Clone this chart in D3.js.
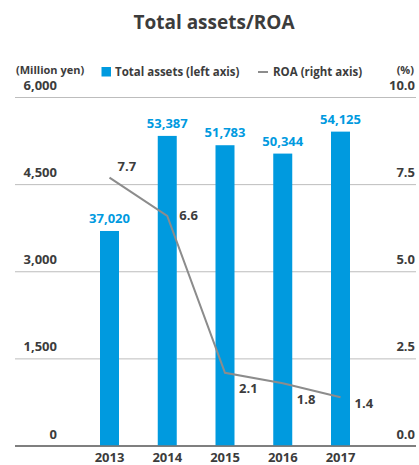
<!DOCTYPE html>
<html>
<head>
<meta charset="utf-8">
<script src="https://cdn.jsdelivr.net/npm/d3@7"></script>
<style>
  html, body { margin: 0; padding: 0; background: #fff; }
  svg { display: block; font-family: "Open Sans", "Noto Sans", sans-serif; }
</style>
</head>
<body>
<svg id="chart" width="419" height="465"></svg>
<script>
// Fiscal years
const years = ["2013", "2014", "2015", "2016", "2017"];
// Total assets (million yen)
const totalAssets = [37020, 53387, 51783, 50344, 54125];
// Return on assets (%)
const roa = [7.7, 6.6, 2.1, 1.8, 1.4];
// Axis ticks
const leftTickValues = [0, 15000, 30000, 45000, 60000];
const leftTickLabels = ["0", "1,500", "3,000", "4,500", "6,000"];
const rightTickValues = [0, 2.5, 5, 7.5, 10];
const rightTickLabels = ["0.0", "2.5", "5.0", "7.5", "10.0"];

// ROA value label placement relative to each point
const roaLabelOffset = [[8, -7, "start"], [12, 4, "start"], [14, 20, "start"], [14, 21, "start"], [14, 11, "start"]];

const svg = d3.select("#chart");
const blue = "#009adf";
const textDark = "#3c3c3c";
const grey = "#8c8c8c";

const plotLeft = 15, plotRight = 416, plotTop = 97.5, plotBottom = 446;

const x = d3.scalePoint().domain(years).range([109.5, 340.5]);
const yL = d3.scaleLinear().domain([0, 60000]).range([plotBottom, plotTop]);
const yR = d3.scaleLinear().domain([0, 10]).range([plotBottom, plotTop]);

// Title
svg.append("text")
  .attr("x", 214).attr("y", 29)
  .attr("text-anchor", "middle")
  .attr("font-size", 19).attr("font-weight", 700)
  .attr("fill", textDark)
  .text("Total assets/ROA");

// Gridlines
const grid = svg.append("g");
leftTickValues.forEach((v, i) => {
  grid.append("line")
    .attr("x1", plotLeft).attr("x2", plotRight)
    .attr("y1", yL(v)).attr("y2", yL(v))
    .attr("stroke", i === 0 ? "#777" : "#bdbdbd")
    .attr("stroke-width", i === 0 ? 1.5 : 1);
});

// Left axis labels
const leftAxis = d3.axisLeft(yL).tickValues(leftTickValues)
  .tickFormat((d, i) => leftTickLabels[i]).tickSize(0);
svg.append("g")
  .attr("transform", "translate(57,-8)")
  .call(leftAxis)
  .call(g => g.select(".domain").remove())
  .call(g => g.selectAll("text")
    .attr("x", 0).attr("dy", 0)
    .attr("text-anchor", "end")
    .attr("font-size", 13).attr("font-weight", 700)
    .attr("font-family", "Open Sans, sans-serif")
    .attr("fill", textDark));

// Right axis labels
const rightAxis = d3.axisRight(yR).tickValues(rightTickValues)
  .tickFormat((d, i) => rightTickLabels[i]).tickSize(0);
svg.append("g")
  .attr("transform", "translate(415,-8)")
  .call(rightAxis)
  .call(g => g.select(".domain").remove())
  .call(g => g.selectAll("text")
    .attr("x", 0).attr("dy", 0)
    .attr("text-anchor", "end")
    .attr("font-size", 13).attr("font-weight", 700)
    .attr("font-family", "Open Sans, sans-serif")
    .attr("fill", textDark));

// Unit labels
svg.append("text").attr("x", 16).attr("y", 74)
  .attr("font-size", 11).attr("font-weight", 700).attr("fill", textDark)
  .text("(Million yen)");
svg.append("text").attr("x", 414).attr("y", 74).attr("text-anchor", "end")
  .attr("font-size", 11).attr("font-weight", 700).attr("fill", textDark)
  .text("(%)");

// Legend
const legend = svg.append("g");
legend.append("rect").attr("x", 101.5).attr("y", 67).attr("width", 9.5).attr("height", 9.5).attr("fill", blue);
legend.append("text").attr("x", 115).attr("y", 76)
  .attr("font-size", 11.5).attr("font-weight", 700).attr("fill", textDark)
  .text("Total assets (left axis)");
legend.append("line").attr("x1", 258).attr("x2", 268).attr("y1", 72).attr("y2", 72)
  .attr("stroke", grey).attr("stroke-width", 2);
legend.append("text").attr("x", 273).attr("y", 76)
  .attr("font-size", 11.5).attr("font-weight", 700).attr("fill", textDark)
  .text("ROA (right axis)");

// Bars
const barW = 19;
svg.append("g").selectAll("rect")
  .data(totalAssets)
  .join("rect")
  .attr("x", (d, i) => x(years[i]) - barW / 2)
  .attr("y", d => yL(d))
  .attr("width", barW)
  .attr("height", d => yL(0) - yL(d))
  .attr("fill", blue);

// Bar value labels
svg.append("g").selectAll("text")
  .data(totalAssets)
  .join("text")
  .attr("x", (d, i) => x(years[i]))
  .attr("y", d => yL(d) - 8)
  .attr("text-anchor", "middle")
  .attr("font-size", 13).attr("font-weight", 700)
  .attr("fill", blue)
  .text(d => d3.format(",")(d));

// Baseline redrawn over bars
svg.append("line")
  .attr("x1", plotLeft).attr("x2", plotRight)
  .attr("y1", yL(0)).attr("y2", yL(0))
  .attr("stroke", "#777").attr("stroke-width", 1.5);

// ROA line
const line = d3.line().x((d, i) => x(years[i])).y(d => yR(d));
svg.append("path")
  .datum(roa)
  .attr("d", line)
  .attr("fill", "none")
  .attr("stroke", grey)
  .attr("stroke-width", 2);

// ROA labels
svg.append("g").selectAll("text")
  .data(roa)
  .join("text")
  .attr("x", (d, i) => x(years[i]) + roaLabelOffset[i][0])
  .attr("y", (d, i) => yR(d) + roaLabelOffset[i][1])
  .attr("text-anchor", (d, i) => roaLabelOffset[i][2])
  .attr("font-size", 13).attr("font-weight", 700)
  .attr("fill", textDark)
  .text(d => d.toFixed(1));

// Year labels
svg.append("g").selectAll("text")
  .data(years)
  .join("text")
  .attr("x", d => x(d))
  .attr("y", 461.5)
  .attr("text-anchor", "middle")
  .attr("font-size", 13).attr("font-weight", 700)
  .attr("fill", textDark)
  .text(d => d);
</script>
</body>
</html>
